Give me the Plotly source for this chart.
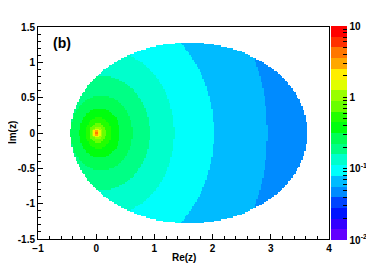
import colorsys
import numpy as np
import plotly.graph_objects as go

# ---- data ----
# log-scale colour range and number of contour bands
log_min, log_max, n_bands = -2.0, 1.0, 20
# contour boundaries: band index k starts at value 10**(-2+0.15k)
boundary_band = [5, 6, 7, 8, 9, 10, 11, 12, 13, 14, 15, 16, 17, 18, 19]
# where each boundary crosses the positive real axis
boundary_right = [2.94, 2.02, 1.34, 0.92, 0.62, 0.41, 0.26, 0.17, 0.11, 0.075, 0.05, 0.033, 0.022, 0.015, 0.008]
# centre (on the real axis) of each (roughly circular) boundary
boundary_center = [0.34, 0.32, 0.17, 0.12, 0.09, 0.06, 0.04, 0.03, 0.02, 0.01, 0.0, 0.0, 0.0, 0.0, 0.0]
outer_band = 4
# elliptical domain
ell_cx, ell_a, ell_b = 1.595, 2.035, 1.28

x_ticks = [-1, 0, 1, 2, 3, 4]
y_ticks = [-1.5, -1, -0.5, 0, 0.5, 1, 1.5]
cbar_decades = [-2, -1, 0, 1]
cbar_decade_text = ["10<sup>-2</sup>", "10<sup>-1</sup>", "1", "10"]

# ---- grid (display resolution) ----
dx, dy = 0.025, 0.02
xs = np.arange(-1 + dx / 2, 4, dx)
ys = np.arange(-1.5 + dy / 2, 1.5, dy)
X, Y = np.meshgrid(xs, ys)
band = np.full(X.shape, float(outer_band))
for k, xr, cx in zip(boundary_band, boundary_right, boundary_center):
    R = xr - cx
    inside = (X - cx) ** 2 + Y ** 2 <= R ** 2
    band = np.where(inside, np.maximum(band, k), band)
step = (log_max - log_min) / n_bands
Z = log_min + step * (band + 0.5)
in_ell = ((X - ell_cx) / ell_a) ** 2 + (Y / ell_b) ** 2 <= 1
Z = np.where(in_ell, Z, np.nan)

# ROOT "pretty" palette, 20 contours
cs = []
for k in range(n_bands):
    idx = int((k + 0.99) * 50 / n_bands)
    hue = 280 - (idx + 1) * 5.6
    r, g, b = colorsys.hls_to_rgb(hue / 360.0, 0.5, 1.0)
    col = "rgb(%d,%d,%d)" % (round(r * 255), round(g * 255), round(b * 255))
    cs.append([k / n_bands, col])
    cs.append([(k + 1) / n_bands, col])

cb_vals, cb_text = [], []
for d in range(-2, 1):
    for m in range(1, 10):
        cb_vals.append(np.log10(m * 10.0 ** d))
        cb_text.append(cbar_decade_text[cbar_decades.index(d)] if m == 1 else "")
cb_vals.append(1.0)
cb_text.append("10")

FONT = "Liberation Sans"
# the page body adds an 8px offset; the figure is sized to fit the window
PAGE_OFF = 8
W, H = 374 - PAGE_OFF, 268 - PAGE_OFF
ML, MR, MT, MB = 38 - PAGE_OFF, 45, 27 - PAGE_OFF, 29
PW = W - ML - MR

fig = go.Figure(go.Heatmap(
    x=xs, y=ys, z=Z, zmin=log_min, zmax=log_max, colorscale=cs,
    hoverongaps=False,
    colorbar=dict(
        x=2.0 / PW + 1.0, xanchor="left", xpad=0,
        y=0.5, yanchor="middle", ypad=0, len=1.01, thickness=16,
        outlinewidth=0, tickmode="array", tickvals=cb_vals, ticktext=cb_text,
        ticks="inside", ticklen=4, tickcolor="black", tickwidth=1,
        tickfont=dict(family=FONT, size=10, color="black", weight="bold"),
    ),
))

axis_common = dict(
    showgrid=False, zeroline=False, showline=True, mirror=True,
    linecolor="black", linewidth=1, ticks="inside", ticklen=5,
    tickcolor="black", automargin=False,
    tickfont=dict(family=FONT, size=10, color="black", weight="bold"),
)
fig.update_layout(
    width=W, height=H,
    margin=dict(l=ML, r=MR, t=MT, b=MB, autoexpand=False),
    paper_bgcolor="white", plot_bgcolor="white",
    xaxis=dict(range=[-1, 4], tickvals=x_ticks,
               minor=dict(dtick=0.2, ticks="inside", ticklen=3, tickcolor="black"),
               **axis_common),
    yaxis=dict(range=[-1.5, 1.5], tickvals=y_ticks,
               ticktext=[("%g" % v) for v in y_ticks],
               minor=dict(dtick=0.1, ticks="inside", ticklen=3, tickcolor="black"),
               **axis_common),
    annotations=[
        dict(text="Re(z)", xref="paper", yref="paper", x=0.5, y=-0.085,
             xanchor="center", yanchor="middle", showarrow=False,
             font=dict(family=FONT, size=10, color="black", weight="bold")),
        dict(text="Im(z)", xref="paper", yref="paper", x=-0.089, y=0.5,
             textangle=-90, xanchor="center", yanchor="middle", showarrow=False,
             font=dict(family=FONT, size=10, color="black", weight="bold")),
        dict(text="(b)", xref="x", yref="y", x=-0.59, y=1.27,
             xanchor="center", yanchor="middle", showarrow=False,
             font=dict(family=FONT, size=14, color="black", weight="bold")),
    ],
)
fig.write_html("out.html")
